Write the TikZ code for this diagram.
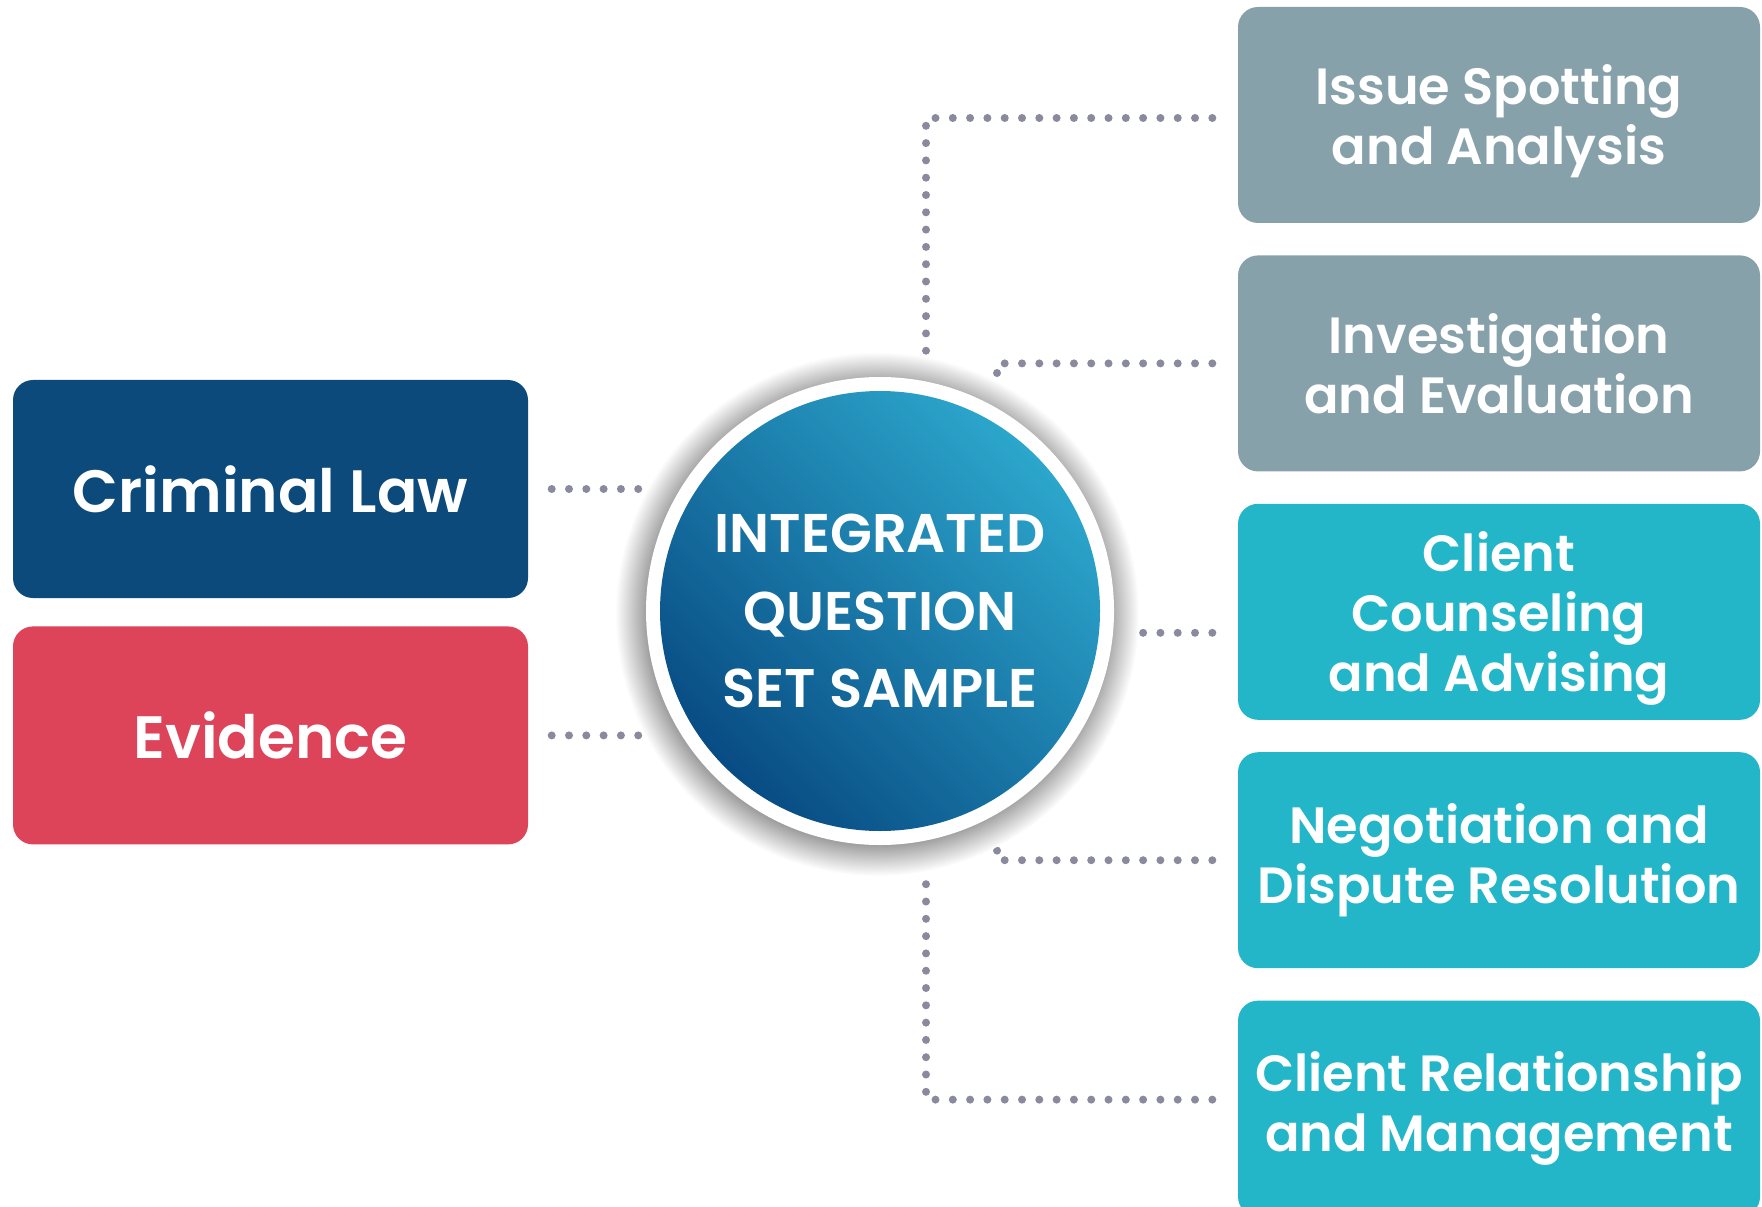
\documentclass[tikz,border=0pt]{standalone}
\usepackage{fontspec}
\setmainfont{Poppins}[UprightFont={* Medium}, BoldFont={* SemiBold}]
\usepackage{tikz}
\usetikzlibrary{calc}
\usetikzlibrary{positioning}
\definecolor{lawblue}{RGB}{11, 74, 122}
\definecolor{evidred}{RGB}{221, 67, 89}
\definecolor{skillgray}{RGB}{135, 161, 170}
\definecolor{skillteal}{RGB}{35, 181, 200}
\definecolor{dotgray}{RGB}{138, 138, 158}
\definecolor{hublight}{RGB}{44, 166, 204}
\definecolor{hubdark}{RGB}{8, 76, 132}
\pgfdeclareradialshading{hubhalo}{\pgfpoint{0bp}{0bp}}{color(0bp)=(black!38); color(22bp)=(black!38); color(25bp)=(white); color(50bp)=(white)}
\tikzset{
  subjbox/.style={rectangle, rounded corners=0.2cm, minimum width=5.15cm, minimum height=2.18cm, inner sep=0pt,
                  text=white, align=center, font=\bfseries\fontsize{17}{21}\selectfont},
  skillbox/.style={rectangle, rounded corners=0.2cm, minimum width=5.22cm, minimum height=2.16cm, inner sep=0pt,
                   text=white, align=center, font=\bfseries\fontsize{14.5}{17}\selectfont},
  dotline/.style={draw=dotgray, line width=0.08cm, line cap=round, dash pattern=on 0pt off 0.173cm},
  hubring/.style={circle, fill=white, minimum size=4.68cm, inner sep=0pt},
  hubfill/.style={top color=hublight, bottom color=hubdark, shading angle=-45},
  hubtext/.style={text=white, align=center, font=\bfseries\fontsize{15.5}{22}\selectfont}
}
\begin{document}
\begin{tikzpicture}
    \useasboundingbox (0,0) rectangle (17.62,12.06);
    % subjects
    \node[subjbox, fill=lawblue]                    (cl)  at (2.705,7.17) {Criminal Law};
    \node[subjbox, fill=evidred, below=0.27cm of cl] (ev)               {Evidence};
    % skills
    \node[skillbox, fill=skillgray]                    (iss) at (14.99,10.91) {Issue Spotting\\and Anal\smash{y}sis};
    \node[skillbox, fill=skillgray, below=0.31cm of iss] (inv) {Investigation\\and Evaluation};
    \node[skillbox, fill=skillteal, below=0.31cm of inv] (cc)  {Client\\Counseling\\and Advisin\smash{g}};
    \node[skillbox, fill=skillteal, below=0.31cm of cc]  (neg) {Negotiation and\\Dispute Resolution};
    \node[skillbox, fill=skillteal, below=0.31cm of neg] (cr)  {Client Relationship\\and Management};
    % connectors
    \coordinate (hubc) at (8.80,5.95);
    \coordinate (ccend) at ([xshift=-0.25cm, yshift=-0.21cm]cc.west);
    \draw[dotline] ([xshift=0.23cm]cl.east) -- (cl.east -| hubc);
    \draw[dotline] ([xshift=0.23cm]ev.east) -- (ev.east -| hubc);
    \draw[dotline] ([xshift=-0.25cm, yshift=-0.03cm]iss.west) -| ($(hubc)+(0.46,0)$);
    \draw[dotline] ([xshift=-0.25cm]inv.west) -| ($(hubc)+(1.17,0)$);
    \draw[dotline] (ccend) -- (ccend -| hubc);
    \draw[dotline] ([xshift=-0.25cm]neg.west) -| ($(hubc)+(1.17,0)$);
    \draw[dotline] ([xshift=-0.25cm, yshift=0.09cm]cr.west) -| ($(hubc)+(0.46,0)$);
    % centre disc
    \shade[shading=hubhalo] ([shift={(-0.03,-0.03)}]hubc) circle (2.62);
    \node[hubring] (hub) at (hubc) {};
    \shade[hubfill] (hub.center) circle (2.20);
    \node[hubtext] (hubtxt) at (hub.center) {INTEGRATED\\QUESTION\\SET SAMPLE};
\end{tikzpicture}
\end{document}
